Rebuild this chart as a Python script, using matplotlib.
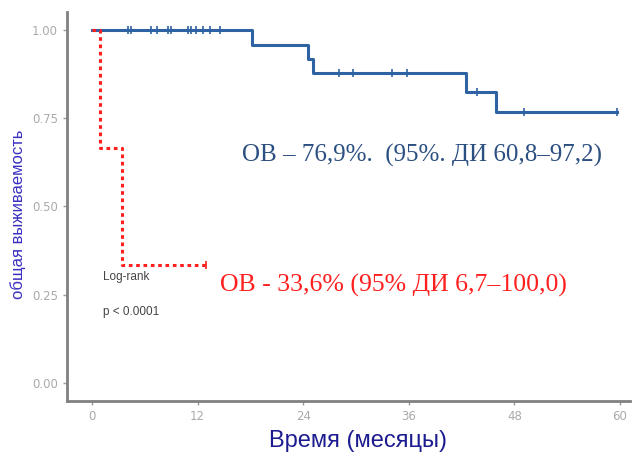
import matplotlib
matplotlib.use('Agg')
import matplotlib.pyplot as plt

# Kaplan-Meier steps (months, survival)
blue_t = [0, 18.2, 24.5, 25.1, 42.5, 45.9, 59.7]
blue_s = [1.0, 0.958, 0.917, 0.877, 0.825, 0.769, 0.769]
blue_cens_t = [4.1, 4.4, 6.7, 7.35, 8.6, 9.0, 10.9, 11.25, 11.8, 12.6, 13.4, 14.5,
               28.1, 29.7, 34.1, 35.8, 43.8, 49.1, 59.7]
blue_cens_s = [1.0] * 12 + [0.877] * 4 + [0.825, 0.769, 0.769]

red_t = [0, 0.9, 3.4, 12.9]
red_s = [1.0, 0.665, 0.334, 0.334]
red_cens_t = [12.9]
red_cens_s = [0.334]

x_ticks = [0, 12, 24, 36, 48, 60]
y_ticks = [0.0, 0.25, 0.5, 0.75, 1.0]
y_ticklabels = ['0.00', '0.25', '0.50', '0.75', '1.00']

blue = '#2f62a3'
red = '#ff1f1f'

fig = plt.figure(figsize=(6.34, 4.54), dpi=100)
ax = fig.add_axes([0.1057, 0.1167, 0.888, 0.857])

ax.step(blue_t, blue_s, where='post', color=blue, lw=2.2, zorder=3)
ax.plot(blue_cens_t, blue_cens_s, ls='none', marker='|', ms=6, mew=1.2, color=blue, zorder=4)
ax.step(red_t, red_s, where='post', color=red, lw=2.2, ls=(0, (1.2, 1.2)), zorder=3)
ax.plot(red_cens_t, red_cens_s, ls='none', marker='|', ms=6, mew=1.2, color=red, zorder=4)

ax.set_xlim(-2.85, 61.15)
ax.set_ylim(-0.051, 1.051)
ax.set_xticks(x_ticks)
ax.set_yticks(y_ticks)
ax.set_yticklabels(y_ticklabels)
ax.tick_params(colors='#999999', labelcolor='#aaaaaa', labelsize=8.5, length=3, width=1)

for s in ['top', 'right']:
    ax.spines[s].set_visible(False)
for s in ['left', 'bottom']:
    ax.spines[s].set_color('#808080')
    ax.spines[s].set_linewidth(2)

fig.text(358 / 634, 1 - 441 / 454, 'Время (месяцы)', fontsize=17, color='#1c1c90',
         family='Liberation Sans', ha='center', va='center')
fig.text(18 / 634, 1 - 214 / 454, 'общая выживаемость', rotation=90, fontsize=12, color='#3a2fc0',
         family='Liberation Sans', ha='center', va='center')

ax.text(17.0, 0.645, 'ОВ – 76,9%.  (95%. ДИ 60,8–97,2)', fontsize=18, color='#2b4f80',
        family='Liberation Serif', va='center')
ax.text(14.5, 0.277, 'ОВ - 33,6% (95% ДИ 6,7–100,0)', fontsize=18.5, color=red,
        family='Liberation Serif', va='center')
ax.text(1.2, 0.30, 'Log-rank', fontsize=8.5, color='#444444', family='Liberation Sans', va='center')
ax.text(1.2, 0.20, 'p < 0.0001', fontsize=8.5, color='#444444', family='Liberation Sans', va='center')

fig.savefig('out.png', dpi=100)
